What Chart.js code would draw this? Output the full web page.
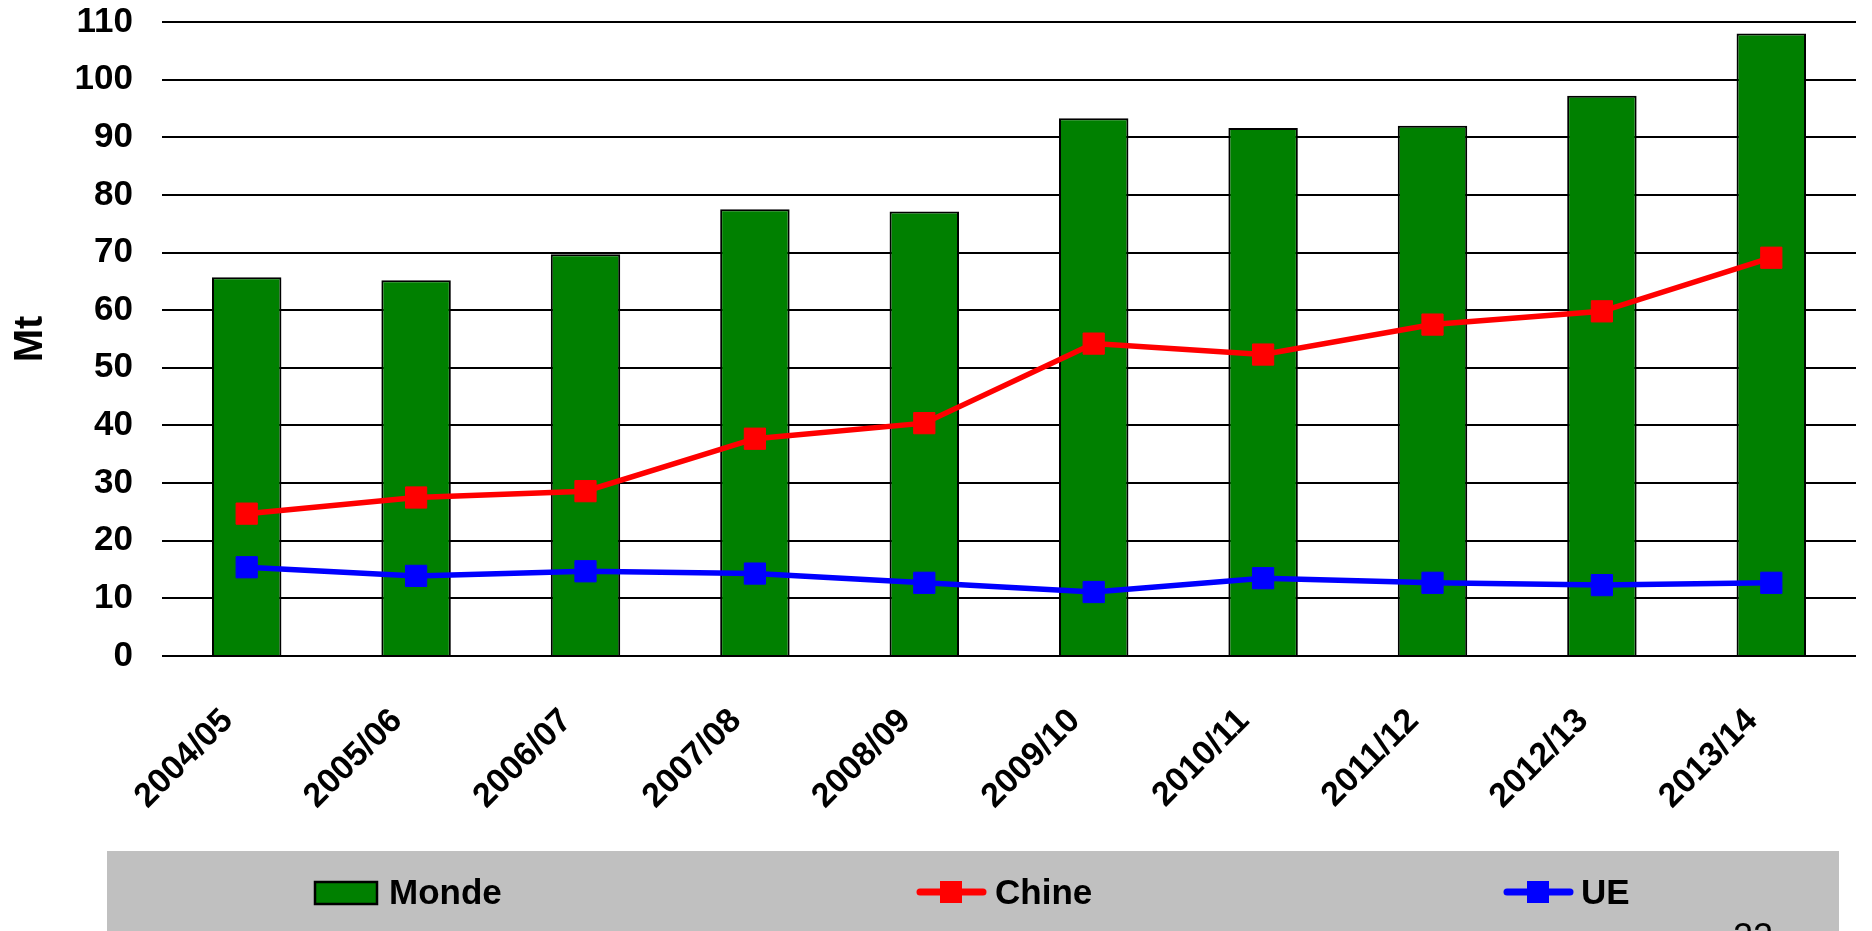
<!DOCTYPE html>
<html>
<head>
<meta charset="utf-8">
<script src="https://cdn.jsdelivr.net/npm/chart.js@4/dist/chart.umd.min.js"></script>
<style>
  html, body { margin: 0; padding: 0; background: #fff; }
  #wrap { width: 1872px; height: 931px; position: relative; }
</style>
</head>
<body>
<div id="wrap"><canvas id="chart" width="1872" height="931"></canvas></div>
<script>
const categories = ['2004/05', '2005/06', '2006/07', '2007/08', '2008/09',
  '2009/10', '2010/11', '2011/12', '2012/13', '2013/14'];
const monde = [65.7, 65.2, 69.7, 77.5, 77.1, 93.3, 91.6, 92.0, 97.2, 108.0];
const chine = [24.7, 27.5, 28.6, 37.7, 40.4, 54.2, 52.3, 57.5, 59.8, 69.1];
const ue = [15.4, 13.9, 14.7, 14.3, 12.7, 11.1, 13.5, 12.7, 12.3, 12.7];
const yTicks = [0, 10, 20, 30, 40, 50, 60, 70, 80, 90, 100, 110];

const FONT = '"Liberation Sans", Arial, sans-serif';

// gray legend band at the bottom, like the slide
const bandLegend = {
  id: 'bandLegend',
  afterDraw(chart) {
    const ctx = chart.ctx;
    const ds = chart.data.datasets;
    const cy = 892;
    ctx.save();
    ctx.fillStyle = '#C0C0C0';
    ctx.fillRect(107, 851, 1732, 80);

    ctx.font = 'bold 35px ' + FONT;
    ctx.textBaseline = 'middle';
    ctx.textAlign = 'left';

    // Monde: box
    ctx.fillStyle = ds[0].backgroundColor;
    ctx.fillRect(315, 882, 62, 22);
    ctx.strokeStyle = '#000';
    ctx.lineWidth = 2.5;
    ctx.strokeRect(315, 882, 62, 22);
    ctx.fillStyle = '#000';
    ctx.fillText(ds[0].label, 389, cy + 2);

    // line series: line + square marker
    const items = [[ds[1], 917, 995], [ds[2], 1504, 1581]];
    items.forEach(([d, x0, tx]) => {
      ctx.strokeStyle = d.borderColor;
      ctx.lineWidth = 7;
      ctx.lineCap = 'round';
      ctx.beginPath();
      ctx.moveTo(x0 + 3, cy);
      ctx.lineTo(x0 + 66, cy);
      ctx.stroke();
      ctx.fillStyle = d.borderColor;
      ctx.fillRect(x0 + 23, cy - 11, 22, 22);
      ctx.fillStyle = '#000';
      ctx.fillText(d.label, tx, cy + 2);
    });

    // page number, cut at the bottom edge
    ctx.font = '36px ' + FONT;
    ctx.textBaseline = 'alphabetic';
    ctx.fillText('22', 1733, 949);
    ctx.restore();
  }
};

const chart = new Chart(document.getElementById('chart'), {
  data: {
    labels: categories,
    datasets: [
      {
        type: 'bar',
        label: 'Monde',
        data: monde,
        backgroundColor: '#008000',
        borderColor: '#000000',
        borderWidth: 2,
        barPercentage: 0.41,
        categoryPercentage: 1,
        order: 3
      },
      {
        type: 'line',
        label: 'Chine',
        data: chine,
        borderColor: '#FF0000',
        backgroundColor: '#FF0000',
        borderWidth: 5.5,
        pointStyle: 'rect',
        pointRadius: 15,
        pointBorderWidth: 1,
        pointBackgroundColor: '#FF0000',
        pointBorderColor: '#FF0000',
        tension: 0,
        order: 1
      },
      {
        type: 'line',
        label: 'UE',
        data: ue,
        borderColor: '#0000FF',
        backgroundColor: '#0000FF',
        borderWidth: 5.5,
        pointStyle: 'rect',
        pointRadius: 15,
        pointBorderWidth: 1,
        pointBackgroundColor: '#0000FF',
        pointBorderColor: '#0000FF',
        tension: 0,
        order: 2
      }
    ]
  },
  options: {
    responsive: false,
    animation: false,
    layout: { padding: { top: 22, right: 5, bottom: 80, left: 0 } },
    plugins: {
      legend: { display: false },
      tooltip: { enabled: false }
    },
    scales: {
      x: {
        grid: { display: false, drawTicks: false },
        border: { display: false },
        ticks: {
          color: '#000',
          font: { family: FONT, size: 34, weight: 'bold' },
          minRotation: 45,
          maxRotation: 45,
          autoSkip: false,
          padding: 45,
          labelOffset: -19
        },
        afterFit(scale) {
          scale.height = 195;
          scale.paddingLeft = 0;
          scale.paddingRight = 0;
        }
      },
      y: {
        min: 0,
        max: 110,
        afterBuildTicks(scale) {
          scale.ticks = yTicks.map(v => ({ value: v }));
        },
        grid: { color: '#000', lineWidth: 2, drawTicks: false },
        border: { display: false },
        ticks: {
          color: '#000',
          font: { family: FONT, size: 35, weight: 'bold' },
          padding: 29
        },
        title: {
          display: true,
          text: 'Mt',
          color: '#000',
          font: { family: FONT, size: 40, weight: 'bold' },
          padding: { top: 7, bottom: 0 }
        },
        afterFit(scale) {
          scale.width = 162;
          scale.paddingTop = 0;
          scale.paddingBottom = 0;
        }
      }
    }
  },
  plugins: [bandLegend]
});
</script>
</body>
</html>
